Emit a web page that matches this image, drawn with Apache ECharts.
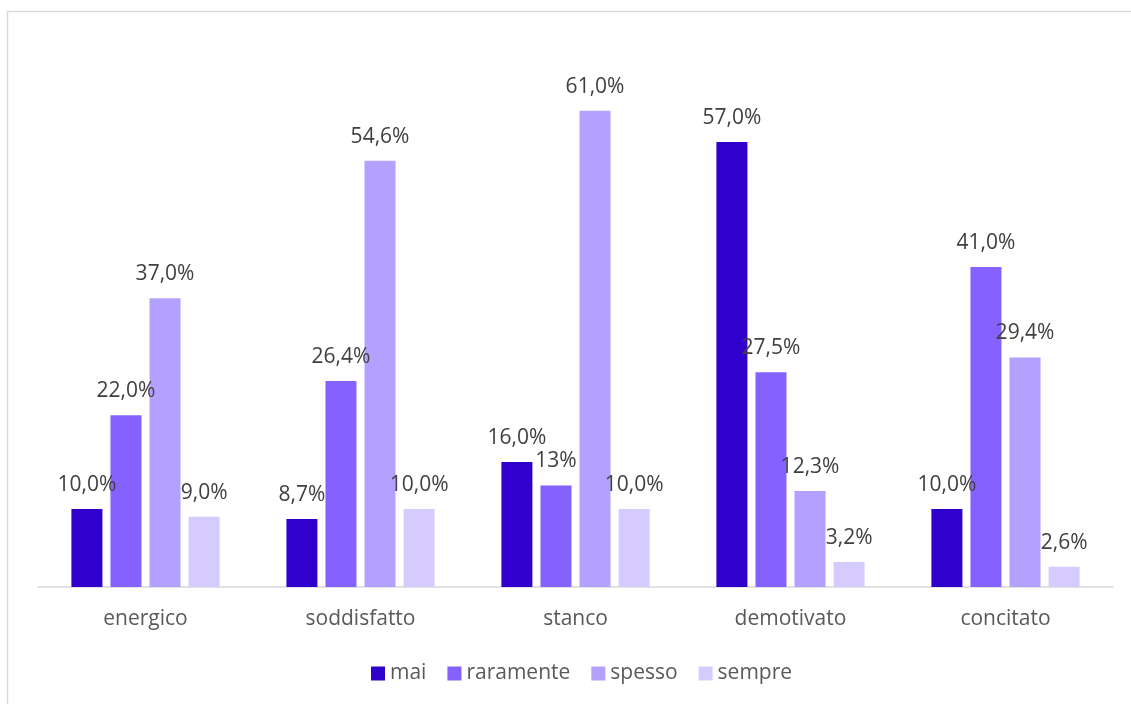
<!DOCTYPE html>
<html>
<head>
<meta charset="utf-8">
<script src="https://cdn.jsdelivr.net/npm/echarts@6/dist/echarts.min.js"></script>
<style>
  html, body { margin: 0; padding: 0; background: #fff; }
  #chart { width: 1131px; height: 704px; }
</style>
</head>
<body>
<div id="chart"></div>
<script>
// Frequency of each mood, share of respondents per answer
const categories = ['energico', 'soddisfatto', 'stanco', 'demotivato', 'concitato'];
const seriesNames = ['mai', 'raramente', 'spesso', 'sempre'];
const mai       = [10.0, 8.7, 16.0, 57.0, 10.0];
const raramente = [22.0, 26.4, 13, 27.5, 41.0];
const spesso    = [37.0, 54.6, 61.0, 12.3, 29.4];
const sempre    = [9.0, 10.0, 10.0, 3.2, 2.6];
// values printed without a decimal place: [series, category]
const wholeLabels = [[1, 2]];

const colors = ['#3000CC', '#8561FF', '#B3A0FF', '#D6CBFF'];
const valueSets = [mai, raramente, spesso, sempre];
const FONT = '"Open Sans", "Noto Sans", sans-serif';

function fmt(si, ci, v) {
  const whole = wholeLabels.some(p => p[0] === si && p[1] === ci);
  return (whole ? v.toFixed(0) : v.toFixed(1).replace('.', ',')) + '%';
}

const chart = echarts.init(document.getElementById('chart'), null, { renderer: 'canvas' });

chart.setOption({
  animation: false,
  backgroundColor: '#fff',
  graphic: [{
    type: 'rect',
    silent: true,
    shape: { x: 7.5, y: 11.5, width: 2000, height: 2000 },
    style: { fill: 'none', stroke: '#D9D9D9', lineWidth: 1.5 }
  }],
  legend: {
    data: seriesNames,
    bottom: 15,
    left: 366,
    itemWidth: 14,
    itemHeight: 14,
    itemGap: 21,
    icon: 'rect',
    textStyle: { fontFamily: FONT, fontSize: 21, color: '#595959' }
  },
  grid: { left: 38, right: 18, top: 40.5, bottom: 117, containLabel: false },
  xAxis: {
    type: 'category',
    data: categories,
    axisLine: { lineStyle: { color: '#D9D9D9', width: 1.5 } },
    axisTick: { show: false },
    axisLabel: { fontFamily: FONT, fontSize: 21, color: '#595959', margin: 22 }
  },
  yAxis: {
    type: 'value',
    min: 0,
    max: 70,
    show: false,
    splitLine: { show: false }
  },
  series: seriesNames.map((name, si) => ({
    name,
    type: 'bar',
    barWidth: 31,
    barGap: '26%',
    itemStyle: { color: colors[si] },
    label: {
      show: true,
      position: 'top',
      distance: 13.5,
      fontFamily: FONT,
      fontSize: 21,
      color: '#404040',
      formatter: p => fmt(si, p.dataIndex, p.value)
    },
    data: valueSets[si]
  }))
});
</script>
</body>
</html>
